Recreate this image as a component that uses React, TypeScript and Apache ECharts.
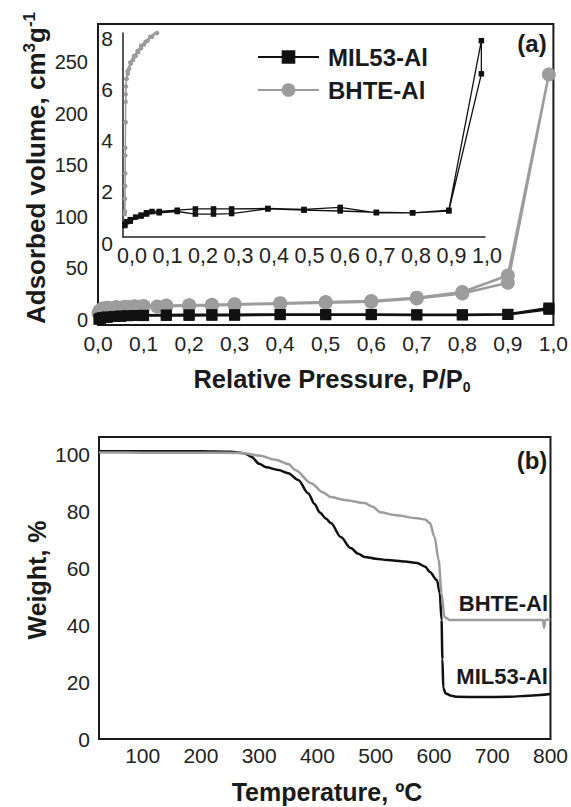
import React, { useEffect, useRef } from 'react';
import * as echarts from 'echarts';

const FONT = '"Liberation Sans", Arial, Helvetica, sans-serif';
const INK = '#1a1a1a';
const GREY = '#9c9c9c';

// ---- Panel (a): N2 isotherms (relative pressure, adsorbed volume) ----
const pressureTicks = [0, 0.1, 0.2, 0.3, 0.4, 0.5, 0.6, 0.7, 0.8, 0.9, 1.0];
const volumeTicks = [0, 50, 100, 150, 200, 250];
const insetVolumeTicks = [0, 2, 4, 6, 8];

const mil53Main = [
  [0.002, 0.5], [0.005, 1.5], [0.01, 2.2], [0.02, 2.8], [0.035, 3.3], [0.05, 3.7], [0.065, 4.0], [0.08, 4.2],
  [0.1, 4.4], [0.15, 4.7], [0.2, 4.9], [0.25, 5.0], [0.3, 5.0], [0.4, 5.2], [0.5, 5.1], [0.6, 5.3], [0.7, 4.9],
  [0.8, 4.9], [0.9, 5.4], [0.99, 11.5],
  [0.99, 10.2], [0.9, 5.2], [0.8, 4.8], [0.7, 4.8], [0.6, 5.0], [0.5, 5.0], [0.4, 5.0], [0.3, 4.4], [0.25, 4.4],
  [0.2, 4.3], [0.15, 4.3], [0.1, 4.1], [0.05, 3.4], [0.02, 2.4], [0.005, 1.2],
];

const bhteMain = [
  [0.001, 6.5], [0.003, 8.5], [0.006, 9.5], [0.01, 10.2], [0.015, 10.7], [0.02, 11.0], [0.03, 11.3], [0.04, 11.6],
  [0.05, 11.8], [0.06, 12.0], [0.07, 12.2], [0.08, 12.4], [0.09, 12.6], [0.1, 12.8], [0.13, 13.0], [0.15, 13.2],
  [0.2, 13.6], [0.25, 14.0], [0.3, 14.6], [0.4, 15.6], [0.5, 16.6], [0.6, 17.6], [0.7, 20.8], [0.8, 25.5],
  [0.9, 36], [0.99, 238],
  [0.9, 43], [0.8, 27], [0.7, 21.5], [0.6, 18.2], [0.5, 17.2], [0.4, 16.2], [0.3, 15.2], [0.25, 14.6], [0.2, 14.2],
  [0.15, 13.8], [0.1, 13.4], [0.08, 13.1], [0.06, 12.8], [0.04, 12.4], [0.02, 11.8], [0.01, 11.0],
];

const mil53Inset = [
  [0.005, 0.5], [0.01, 0.6], [0.02, 0.68], [0.035, 0.78], [0.05, 0.86], [0.065, 0.95], [0.08, 1.0], [0.1, 1.0],
  [0.15, 1.05], [0.2, 1.1], [0.25, 1.1], [0.3, 1.1], [0.4, 1.12], [0.5, 1.08], [0.6, 1.16], [0.7, 0.95],
  [0.8, 0.95], [0.9, 1.05], [0.99, 7.7],
  [0.99, 6.4], [0.9, 1.02], [0.8, 0.95], [0.7, 0.97], [0.6, 1.02], [0.5, 1.05], [0.4, 1.1], [0.3, 0.92],
  [0.25, 0.9], [0.2, 0.9], [0.15, 1.0], [0.1, 0.95], [0.065, 0.9], [0.05, 0.82], [0.02, 0.62], [0.005, 0.45],
];

const bhteInset = [
  [0.005, 0.9], [0.0055, 1.5], [0.006, 2.5], [0.0065, 3.5], [0.007, 4.5], [0.0075, 5.3], [0.008, 5.9],
  [0.01, 6.2], [0.013, 6.4], [0.017, 6.6], [0.022, 6.8], [0.028, 6.95], [0.035, 7.1], [0.042, 7.25],
  [0.05, 7.4], [0.058, 7.55], [0.068, 7.7], [0.08, 7.85], [0.094, 8.0], [0.11, 8.25],
  [0.09, 8.05], [0.075, 7.85], [0.062, 7.65], [0.05, 7.5], [0.04, 7.3], [0.03, 7.1], [0.02, 6.85],
  [0.013, 6.5], [0.009, 6.2], [0.0075, 5.6], [0.007, 4.5], [0.0065, 3.2], [0.006, 2.0], [0.0055, 1.0],
];

// ---- Panel (b): TGA (temperature, weight %) ----
const temperatureTicks = [100, 200, 300, 400, 500, 600, 700, 800];
const weightTicks = [0, 20, 40, 60, 80, 100];

const mil53Tga = [
  [25, 101], [100, 101], [150, 101], [200, 101], [250, 100.8], [275, 100.3], [287, 99], [300, 96.6], [312, 95.4],
  [333, 94.4], [350, 93.3], [367, 90.9], [384, 86.3], [395, 82.5], [404, 79.5], [415, 77.3], [423, 75.8],
  [440, 70.9], [457, 67], [470, 65], [481, 63.9], [500, 63.3], [520, 62.8], [550, 62.3], [571, 61.8],
  [585, 60.5], [593, 58.6], [605, 55.8], [610, 51.2], [613, 41.8], [614.5, 28], [616, 17.9], [620, 16],
  [630, 15.2], [639, 14.8], [680, 14.7], [729, 14.8], [770, 15.3], [800, 15.8],
];

const bhteTga = [
  [25, 100.6], [100, 100.5], [200, 100.5], [270, 100.4], [300, 99.5], [328, 98], [350, 96.5], [362, 94.4],
  [389, 89.8], [410, 86.5], [423, 84.9], [446, 83.9], [481, 82.8], [495, 81.5], [508, 79.6], [532, 78.6],
  [571, 77.5], [585, 77], [593, 75.8], [601, 70.9], [608, 62.8], [613, 51.2], [618, 42.8], [627, 41.8],
  [700, 41.8], [787, 41.8], [789, 39], [791, 41.8], [800, 42],
];

const commaFmt = (v: number) => v.toFixed(1).replace('.', ',');

const tickLabel = (size: number, extra: any = {}) => ({
  color: '#222',
  fontFamily: FONT,
  fontSize: size,
  ...extra,
});

const hidden = { show: false };

const option: any = {
  animation: false,
  backgroundColor: '#ffffff',
  textStyle: { fontFamily: FONT },
  grid: [
    { left: 98, top: 24, width: 457, height: 301, show: true, borderColor: INK, borderWidth: 2, backgroundColor: 'transparent' },
    { left: 123, top: 33, width: 362, height: 204, show: false },
    { left: 99, top: 437, width: 456, height: 302, show: true, borderColor: INK, borderWidth: 2, backgroundColor: 'transparent' },
    // label frame of the inset (its printed labels sit a little right of / below the ticks)
    { left: 132, top: 38, width: 355, height: 205, show: false },
  ],
  xAxis: [
    {
      gridIndex: 0, type: 'value', min: 0, max: 1,
      axisLine: hidden, axisTick: hidden, splitLine: hidden,
      axisLabel: tickLabel(21, { customValues: pressureTicks, formatter: commaFmt, margin: 8 }),
    },
    {
      gridIndex: 1, type: 'value', min: 0, max: 1,
      axisLine: { show: true, lineStyle: { color: '#222', width: 1.5 } }, axisTick: hidden, splitLine: hidden,
      axisLabel: hidden,
    },
    {
      gridIndex: 2, type: 'value', min: 25, max: 800,
      axisLine: hidden, axisTick: hidden, splitLine: hidden,
      axisLabel: tickLabel(21, { customValues: temperatureTicks, margin: 6 }),
    },
    {
      gridIndex: 3, type: 'value', min: 0, max: 1,
      axisLine: hidden, axisTick: hidden, splitLine: hidden,
      axisLabel: tickLabel(21.5, { customValues: pressureTicks, formatter: commaFmt, margin: 2 }),
    },
  ],
  yAxis: [
    {
      gridIndex: 0, type: 'value', min: -5, max: 287,
      axisLine: hidden, axisTick: hidden, splitLine: hidden,
      axisLabel: tickLabel(20, { customValues: volumeTicks, margin: 10 }),
    },
    {
      gridIndex: 1, type: 'value', min: 0, max: 8,
      axisLine: { show: true, lineStyle: { color: '#222', width: 1.5 } }, axisTick: hidden, splitLine: hidden,
      axisLabel: hidden,
    },
    {
      gridIndex: 2, type: 'value', min: 0, max: 106,
      axisLine: hidden, axisTick: hidden, splitLine: hidden,
      axisLabel: tickLabel(21, { customValues: weightTicks, margin: 9, padding: [7, 0, 0, 0] }),
    },
    {
      gridIndex: 3, type: 'value', min: 0, max: 8,
      axisLine: hidden, axisTick: hidden, splitLine: hidden,
      axisLabel: tickLabel(21, { customValues: insetVolumeTicks, margin: 19 }),
    },
  ],
  legend: {
    data: ['MIL53-Al', 'BHTE-Al'],
    orient: 'vertical',
    left: 257,
    top: 45,
    padding: 0,
    itemWidth: 61,
    itemHeight: 17,
    itemGap: 9,
    selectedMode: false,
    textStyle: { fontSize: 24, fontWeight: 'bold', fontFamily: FONT, color: INK, lineHeight: 24, padding: [0, 0, 0, 4] },
  },
  series: [
    {
      name: 'BHTE-Al', type: 'line', xAxisIndex: 0, yAxisIndex: 0, data: bhteMain,
      symbol: 'circle', symbolSize: 14, color: GREY,
      lineStyle: { color: GREY, width: 2.5 }, itemStyle: { color: GREY }, z: 2,
    },
    {
      name: 'MIL53-Al', type: 'line', xAxisIndex: 0, yAxisIndex: 0, data: mil53Main,
      symbol: 'rect', symbolSize: 11, color: '#111',
      lineStyle: { color: '#111', width: 2.5 }, itemStyle: { color: '#111' }, z: 3,
    },
    {
      name: 'BHTE-Al inset', type: 'line', xAxisIndex: 1, yAxisIndex: 1, data: bhteInset,
      symbol: 'circle', symbolSize: 4.5, clip: true,
      lineStyle: { color: GREY, width: 1.5 }, itemStyle: { color: GREY }, z: 2,
    },
    {
      name: 'MIL53-Al inset', type: 'line', xAxisIndex: 1, yAxisIndex: 1, data: mil53Inset,
      symbol: 'rect', symbolSize: 5.5, clip: true,
      lineStyle: { color: '#111', width: 1.3 }, itemStyle: { color: '#111' }, z: 3,
    },
    {
      name: 'MIL53-Al TGA', type: 'line', xAxisIndex: 2, yAxisIndex: 2, data: mil53Tga,
      symbol: 'none', smooth: 0.3, smoothMonotone: 'x',
      lineStyle: { color: '#111', width: 2.5 }, z: 2,
    },
    {
      name: 'BHTE-Al TGA', type: 'line', xAxisIndex: 2, yAxisIndex: 2, data: bhteTga,
      symbol: 'none', smooth: 0.3, smoothMonotone: 'x',
      lineStyle: { color: GREY, width: 2.5 }, z: 3,
    },
  ],
  graphic: [
    {
      type: 'text', x: 532, y: 43,
      style: { text: '(a)', font: `bold 24px ${FONT}`, fill: INK, align: 'center', verticalAlign: 'middle' },
    },
    {
      type: 'text', x: 532, y: 460,
      style: { text: '(b)', font: `bold 24px ${FONT}`, fill: INK, align: 'center', verticalAlign: 'middle' },
    },
    {
      type: 'text', x: 548, y: 603,
      style: { text: 'BHTE-Al', font: `bold 22px ${FONT}`, fill: INK, align: 'right', verticalAlign: 'middle' },
    },
    {
      type: 'text', x: 548, y: 676,
      style: { text: 'MIL53-Al', font: `bold 22px ${FONT}`, fill: INK, align: 'right', verticalAlign: 'middle' },
    },
    {
      type: 'text', x: 36, y: 168, rotation: Math.PI / 2,
      style: {
        text: '{a|Adsorbed volume, cm}{s|3}{a|g}{s|-1}',
        align: 'center', verticalAlign: 'middle', fill: INK,
        rich: {
          a: { fontSize: 26, fontWeight: 'bold', fontFamily: FONT, lineHeight: 30, fill: INK },
          s: { fontSize: 17, fontWeight: 'bold', fontFamily: FONT, lineHeight: 14, verticalAlign: 'top', fill: INK },
        },
      },
    },
    {
      type: 'text', x: 332, y: 379,
      style: {
        text: '{a|Relative Pressure, P/P}{b|0}',
        align: 'center', verticalAlign: 'middle', fill: INK,
        rich: {
          a: { fontSize: 25.5, fontWeight: 'bold', fontFamily: FONT, lineHeight: 30, fill: INK },
          b: { fontSize: 14, fontWeight: 'bold', fontFamily: FONT, lineHeight: 10, verticalAlign: 'bottom', fill: INK },
        },
      },
    },
    {
      type: 'text', x: 37, y: 580, rotation: Math.PI / 2,
      style: { text: 'Weight, %', font: `bold 25px ${FONT}`, fill: INK, align: 'center', verticalAlign: 'middle' },
    },
    {
      type: 'text', x: 327, y: 792,
      style: { text: 'Temperature, ºC', font: `bold 25px ${FONT}`, fill: INK, align: 'center', verticalAlign: 'middle' },
    },
  ],
};

export default function App() {
  const ref = useRef<HTMLDivElement>(null);
  useEffect(() => {
    if (!ref.current) return;
    const chart = echarts.init(ref.current, null, { renderer: 'svg' });
    chart.setOption(option);
    return () => {
      chart.dispose();
    };
  }, []);
  return (
    <div
      ref={ref}
      style={{ position: 'absolute', left: 0, top: 0, width: 571, height: 807, background: '#ffffff' }}
    />
  );
}
